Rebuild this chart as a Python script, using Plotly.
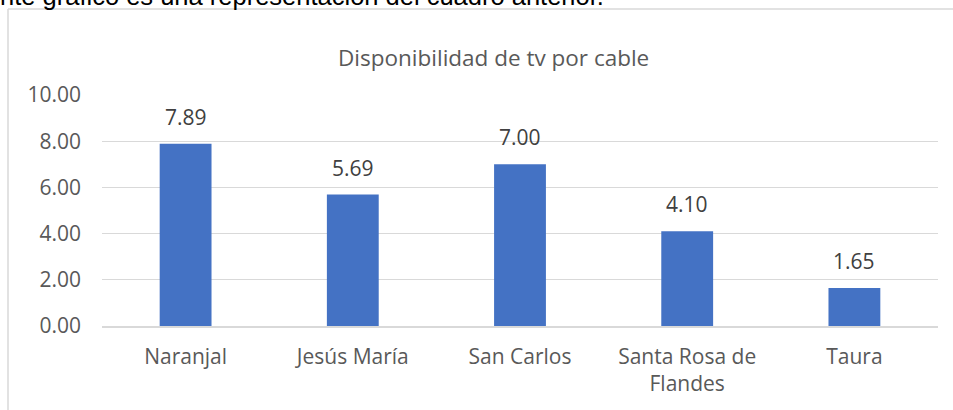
import plotly.graph_objects as go

# Data
categories = ["Naranjal", "Jesús María", "San Carlos", "Santa Rosa de<br>Flandes", "Taura"]
values = [7.89, 5.69, 7.00, 4.10, 1.65]
y_ticks = [0, 2, 4, 6, 8, 10]
y_tick_labels = ["0.00", "2.00", "4.00", "6.00", "8.00", "10.00"]

W, H = 953, 410
ML, MR, MT, MB = 102, 15, 95, 84
PW, PH = W - ML - MR, H - MT - MB


def px_x(p):
    return (p - ML) / PW


def px_y(p):
    return (H - MB - p) / PH


FONT = "Open Sans"
GRAY = "#595959"
LINE = "#d9d9d9"

fig = go.Figure(
    go.Bar(
        x=categories,
        y=values,
        marker=dict(color="#4472C4", line=dict(width=0)),
        width=0.31,
        hoverinfo="x+y",
    )
)

# Value labels above each bar
for c, v in zip(categories, values):
    fig.add_annotation(
        x=c, y=v, xref="x", yref="y",
        text=f"{v:.2f}", showarrow=False,
        yanchor="bottom", yshift=11,
        font=dict(family=FONT, size=21, color="#404040"),
    )

# Chart title
fig.add_annotation(
    x=px_x(493), y=px_y(57), xref="paper", yref="paper",
    text="Disponibilidad de tv por cable", showarrow=False,
    xanchor="center", yanchor="middle",
    font=dict(family=FONT, size=22.5, color=GRAY),
)

# Sentence of the surrounding document, running off the top edge
fig.add_annotation(
    x=px_x(-2), y=px_y(-4), xref="paper", yref="paper",
    text="nte gráfico es una representación del cuadro anterior.", showarrow=False,
    xanchor="left", yanchor="middle",
    font=dict(family="Liberation Sans", size=25.5, color="#000000"),
)

# Chart-area border (left and top edges)
fig.add_shape(type="line", xref="paper", yref="paper",
              x0=px_x(8), x1=px_x(8), y0=px_y(9), y1=px_y(412),
              line=dict(color=LINE, width=1.5))
fig.add_shape(type="line", xref="paper", yref="paper",
              x0=px_x(8), x1=px_x(955), y0=px_y(9), y1=px_y(9),
              line=dict(color=LINE, width=1.5))

fig.update_layout(
    width=W, height=H,
    margin=dict(l=ML, r=MR, t=MT, b=MB),
    paper_bgcolor="white", plot_bgcolor="white",
    showlegend=False,
    bargap=0.69,
    font=dict(family=FONT, size=21, color=GRAY),
)
fig.update_xaxes(
    showgrid=False, showline=True, linecolor=LINE, linewidth=1.5,
    ticks="", ticklabelstandoff=11,
    tickfont=dict(family=FONT, size=21, color=GRAY),
)
fig.update_yaxes(
    range=[0, 10], tickvals=y_ticks, ticktext=y_tick_labels,
    showgrid=True, gridcolor=LINE, gridwidth=1.2,
    zeroline=False, showline=False, ticks="", ticklabelstandoff=20,
    tickfont=dict(family=FONT, size=21, color=GRAY),
)

fig.write_html("out.html")
